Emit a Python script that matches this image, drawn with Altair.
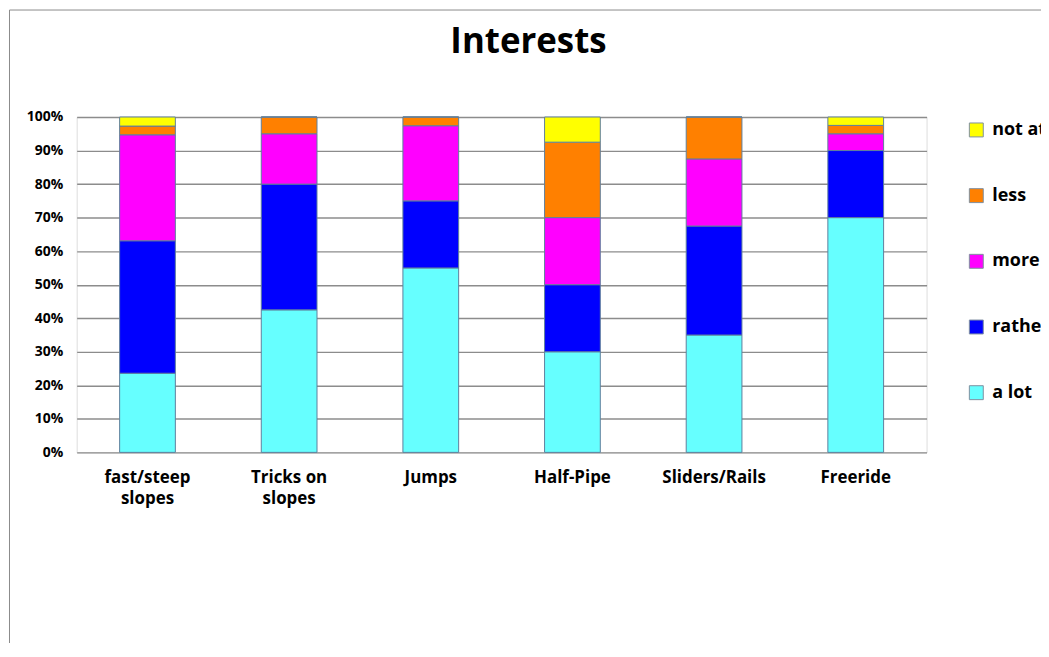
import altair as alt
import pandas as pd

title_text = "Interests"
categories = ["fast/steep slopes", "Tricks on slopes", "Jumps", "Half-Pipe", "Sliders/Rails", "Freeride"]
label_lines = [["fast/steep", "slopes"], ["Tricks on", "slopes"], ["Jumps"], ["Half-Pipe"], ["Sliders/Rails"], ["Freeride"]]
series = ["a lot", "rather", "more", "less", "not at all"]
a_lot = [23.6, 42.5, 55.0, 30.0, 35.0, 70.0]
rather = [39.5, 37.5, 20.0, 20.0, 32.5, 20.0]
more = [31.6, 15.0, 22.4, 20.0, 20.0, 5.0]
less = [2.6, 5.0, 2.6, 22.5, 12.5, 2.5]
not_at_all = [2.7, 0.0, 0.0, 7.5, 0.0, 2.5]
colors = {"a lot": "#66ffff", "rather": "#0000ff", "more": "#ff00ff", "less": "#ff8000", "not at all": "#ffff00"}
y_ticks = [0, 10, 20, 30, 40, 50, 60, 70, 80, 90, 100]

values = [a_lot, rather, more, less, not_at_all]
rows = []
for si, (s, vals) in enumerate(zip(series, values)):
    for ci, c in enumerate(categories):
        rows.append({"category": c, "series": s, "value": vals[ci], "order": si})
df = pd.DataFrame(rows)

legend_order = list(reversed(series))

expr = "''"
for c, lines in zip(reversed(categories), reversed(label_lines)):
    arr = "[" + ",".join("'" + l + "'" for l in lines) + "]"
    expr = f"datum.label == '{c}' ? {arr} : ({expr})"

FONT = "Open Sans"

frame = alt.Chart(alt.Data(values=[{"f": 1}])).mark_rect(
    fill=None, stroke="#8a8a8a", strokeWidth=1
).encode(
    x=alt.value(-67.5), x2=alt.value(3000), y=alt.value(-107.5), y2=alt.value(3000)
)

title = alt.Chart(alt.Data(values=[{"t": title_text}])).mark_text(
    font=FONT, fontSize=35, fontWeight="bold", color="#000000",
    align="center", baseline="alphabetic"
).encode(
    x=alt.value(454), y=alt.value(-64), text="t:N"
)

bars = alt.Chart(df).mark_bar(size=56, stroke="#5f7f9c", strokeWidth=1).encode(
    x=alt.X("category:N", sort=categories, title=None,
            scale=alt.Scale(paddingInner=0, paddingOuter=0),
            axis=alt.Axis(labelAngle=0, labelExpr=expr, labelFont=FONT, labelFontSize=17,
                          labelFontWeight="bold", labelColor="#000000", labelPadding=17,
                          labelBaseline="top", labelLineHeight=21, ticks=False, domain=False,
                          labelLimit=300)),
    y=alt.Y("value:Q", stack="zero", title=None,
            scale=alt.Scale(domain=[0, 100], nice=False),
            axis=alt.Axis(values=y_ticks, labelExpr="datum.value + '%'", labelFont=FONT,
                          labelFontSize=14, labelFontWeight="bold", labelColor="#000000",
                          labelPadding=14, ticks=False, domain=False, grid=True,
                          gridColor="#8c8c8c", gridWidth=1.4)),
    color=alt.Color("series:N",
                    scale=alt.Scale(domain=legend_order, range=[colors[s] for s in legend_order]),
                    legend=alt.Legend(title=None, orient="none", legendX=895, legendY=4,
                                      symbolType="square", symbolSize=196,
                                      symbolStrokeColor="#7f8fa0", symbolStrokeWidth=1,
                                      symbolOpacity=1,
                                      labelFont=FONT, labelFontSize=18, labelFontWeight="bold",
                                      labelColor="#000000", rowPadding=48, labelOffset=7,
                                      padding=0, labelLimit=400)),
    order=alt.Order("order:Q", sort="ascending"),
)

chart = alt.layer(frame, title, bars).properties(
    width=854,
    height=337,
    autosize=alt.AutoSizeParams(type="none"),
    padding={"left": 69, "top": 108, "right": 115, "bottom": 190},
).configure_view(
    fill="#e6e6e6", stroke="#a0a0a0", strokeWidth=1.5
).configure(background="#ffffff")

chart.save("out.html", embed_options={"renderer": "svg", "actions": False})
